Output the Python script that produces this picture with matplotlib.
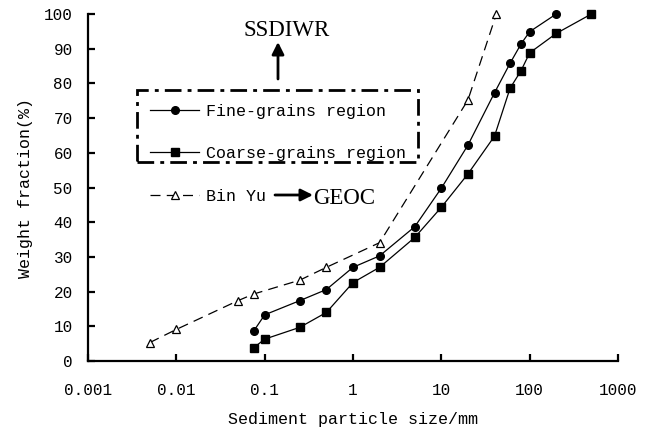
import matplotlib
matplotlib.use("Agg")
import matplotlib.pyplot as plt
from matplotlib.patches import Rectangle

# grain size distribution data
fine_size = [0.075, 0.1, 0.25, 0.5, 1, 2, 5, 10, 20, 40, 60, 80, 100, 200]
fine_frac = [8.6, 13.3, 17.4, 20.6, 27.0, 30.3, 38.7, 49.8, 62.2, 77.3, 85.8, 91.4, 94.9, 100]

coarse_size = [0.075, 0.1, 0.25, 0.5, 1, 2, 5, 10, 20, 40, 60, 80, 100, 200, 500]
coarse_frac = [3.8, 6.3, 9.7, 14.0, 22.6, 27.0, 35.6, 44.3, 53.9, 64.8, 78.6, 83.7, 88.8, 94.4, 100]

binyu_size = [0.005, 0.01, 0.05, 0.075, 0.25, 0.5, 2, 20, 42]
binyu_frac = [5.3, 9.1, 17.4, 19.3, 23.3, 27.0, 34.1, 75.2, 100]

xticks = [0.001, 0.01, 0.1, 1, 10, 100, 1000]
xticklabels = ["0.001", "0.01", "0.1", "1", "10", "100", "1000"]
yticks = list(range(0, 101, 10))

mono = "Liberation Mono"
serif = "Liberation Serif"

W, H = 650, 428
fig = plt.figure(figsize=(6.5, 4.28), dpi=100)
ax = fig.add_axes([88 / W, 1 - 361 / H, 530 / W, 347 / H])

l_fine, = ax.plot(fine_size, fine_frac, "-", color="black", lw=0.9,
                  marker="o", markersize=5.5, label="Fine-grains region", clip_on=False)
l_coarse, = ax.plot(coarse_size, coarse_frac, "-", color="black", lw=0.9,
                    marker="s", markersize=5.5, label="Coarse-grains region", clip_on=False)
l_binyu, = ax.plot(binyu_size, binyu_frac, color="black", lw=0.9,
                   linestyle=(0, (8, 5)), marker="^", markersize=6,
                   markerfacecolor="white", markeredgewidth=0.9, label="Bin Yu",
                   clip_on=False)

ax.set_xscale("log")
ax.set_xlim(0.001, 1000)
ax.set_ylim(0, 100)
ax.set_xticks(xticks)
ax.set_xticklabels(xticklabels, fontfamily=mono, fontsize=11.5)
ax.xaxis.set_minor_locator(matplotlib.ticker.NullLocator())
ax.set_yticks(yticks)
ax.set_yticklabels([str(v) for v in yticks], fontfamily=mono, fontsize=11.5)

for s in ["top", "right"]:
    ax.spines[s].set_visible(False)
for s in ["left", "bottom"]:
    ax.spines[s].set_linewidth(1.6)
ax.tick_params(axis="x", direction="in", length=5, width=1.6, pad=16)
ax.tick_params(axis="y", direction="in", length=5, width=1.6, pad=11)

ax.set_xlabel("Sediment particle size/mm", fontfamily=mono, fontsize=12)
ax.set_ylabel("Weight fraction(%)", fontfamily=mono, fontsize=12)
ax.xaxis.set_label_coords(0.5, -0.147)
ax.yaxis.set_label_coords(-0.104, 0.5)

# legend entries in a dash-dot box, Bin Yu below it
fig.legend(handles=[l_fine, l_coarse], loc="upper left",
           bbox_to_anchor=(150 / W, 1 - 104 / H), frameon=False,
           borderpad=0, borderaxespad=0, handlelength=2.95,
           handletextpad=0.4, labelspacing=1.6,
           prop={"family": mono, "size": 12})
fig.legend(handles=[l_binyu], loc="upper left",
           bbox_to_anchor=(150 / W, 1 - 189 / H), frameon=False,
           borderpad=0, borderaxespad=0, handlelength=2.95,
           handletextpad=0.4, prop={"family": mono, "size": 12})

box = Rectangle((137 / W, 1 - 162 / H), 281 / W, 72 / H, transform=fig.transFigure,
                fill=False, edgecolor="black", lw=2,
                linestyle=(0, (6, 2.2, 1.4, 2.2)))
fig.add_artist(box)

fig.text(287 / W, 1 - 36 / H, "SSDIWR", fontfamily=serif, fontsize=16.5,
         ha="center", va="baseline")
ax.annotate("", xy=(278, H - 42), xytext=(278, H - 79), xycoords="figure pixels",
            textcoords="figure pixels",
            arrowprops=dict(arrowstyle="-|>", lw=2, color="black", mutation_scale=18,
                            shrinkA=0, shrinkB=0))

fig.text(313 / W, 1 - 204 / H, "GEOC", fontfamily=serif, fontsize=16.5,
         ha="left", va="baseline")
ax.annotate("", xy=(313, H - 195), xytext=(275, H - 195), xycoords="figure pixels",
            textcoords="figure pixels",
            arrowprops=dict(arrowstyle="-|>", lw=2, color="black", mutation_scale=18,
                            shrinkA=0, shrinkB=0))

fig.savefig("out.png", dpi=100)
